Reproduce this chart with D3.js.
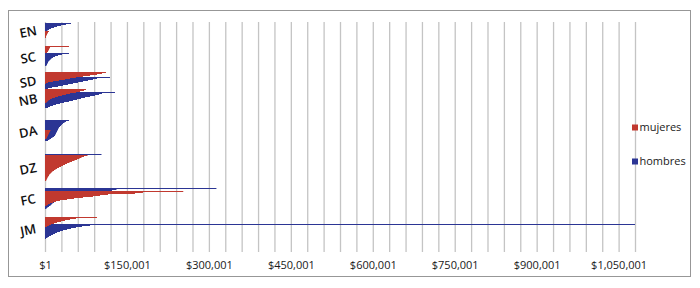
<!DOCTYPE html>
<html>
<head>
<meta charset="utf-8">
<script src="https://cdn.jsdelivr.net/npm/d3@7"></script>
<style>
  html, body { margin: 0; padding: 0; background: #fff; }
  svg { display: block; }
</style>
</head>
<body>
<svg id="chart" width="700" height="288"></svg>
<script>
// ---- DATA (one value per employee row, in dollars; 0 = empty row) ----
const categories = ["EN", "SC", "SD", "NB", "DA", "DZ", "FC", "JM"];
const seriesNames = ["mujeres", "hombres"];
const xTickValues = [1, 150001, 300001, 450001, 600001, 750001, 900001, 1050001];

const EN_mujeres = [0,0,0,0,0,0,0,0,0,7300,5500,4600,3700,2700,1800,1800,0,0,0,0];
const EN_hombres = [0,47600,38400,29300,22000,16500,11000,7300,4600,0,0,0,0,0,0,0,0,0,0,0];

const SC_mujeres = [0,0,0,0,43900,9200,8200,7300,6400,5500,3700,0,0,0,0,0,0,0,0,0,0,0,0,0,0,0,0];
const SC_hombres = [0,0,0,0,0,0,0,0,0,0,0,43900,31100,23800,18300,14600,11900,10100,8200,6400,5500,4600,3700,2700,0,0,0];

const SD_mujeres = [0,0,0,111600,104300,95200,82400,69500,56700,45800,36600,25600,14600,5500,1800,0,0,0,0,0];
const SD_hombres = [0,0,0,0,0,0,0,0,119000,95200,87800,78700,69500,60400,51200,42100,32900,23800,12800,5500];

const NB_mujeres = [75000,71400,64100,56700,45800,38400,31100,23800,18300,12800,9200,6400,4600,2700,0,0,0,0,0,0,0,0,0,0];
const NB_hombres = [0,0,0,128100,104300,98800,91500,82400,73200,65900,58600,51200,43900,34800,27500,20100,14600,9200,5500,0,0,0,0,0];

const DA_mujeres = [0,0,0,0,0,0,0,0,0,0,0,0,0,0,0,0,0,10100,9200,8200,7300,6400,5500,4600,3700,2700,0,0,0,0,0,0,0,0];
const DA_hombres = [0,0,0,0,0,0,0,43900,38400,35700,32900,31100,29300,27500,25600,24700,23800,22900,22000,21000,20100,19200,18300,16500,13700,11000,8200,5500,0,0,0,0,0,0];

const DZ_mujeres = [0,0,0,0,0,0,0,0,77800,71400,66800,63100,58600,54000,49400,44800,40300,36600,32900,29300,25600,22000,19200,16500,13700,11900,10100,8200,7300,6000,4900,4000,3100,2200,0,0,0];
const DZ_hombres = [0,0,0,0,0,0,0,103400,0,0,0,0,0,0,0,0,0,0,0,0,0,0,0,0,0,0,0,0,0,0,0,0,0,0,0,0,0];

const FC_mujeres = [0,0,0,0,0,0,0,253100,179300,164700,115300,100700,87800,69500,53100,40300,27500,20100,14600,9200,5500,2700,0,0,0,0,0,0];
const FC_hombres = [0,0,0,0,313800,130800,122600,0,0,0,0,0,0,0,0,0,0,0,16500,13700,11900,10100,7300,4600,2700,0,0,0];

const JM_mujeres = [0,0,0,0,0,95200,56700,45800,36600,29300,22000,16500,11000,7300,3700,0,0,0,0,0,0,0,0,0,0,0,0,0,0,0,0,0,0,0,0,0,0,0,0,0];
const JM_hombres = [0,0,0,0,0,0,0,0,0,0,0,0,1080000,82400,67700,56700,47600,40300,32900,27500,22000,18300,14600,11000,7300,4600,1800,0,0,0,0,0,0,0,0,0,0,0,0,0];

// ---- build table ----
const groupData = [
  [EN_mujeres, EN_hombres], [SC_mujeres, SC_hombres], [SD_mujeres, SD_hombres],
  [NB_mujeres, NB_hombres], [DA_mujeres, DA_hombres], [DZ_mujeres, DZ_hombres],
  [FC_mujeres, FC_hombres], [JM_mujeres, JM_hombres]
];
const rows = [];
const labelInfo = [];
groupData.forEach(([m, h], gi) => {
  const idx = [];
  m.forEach((v, i) => {
    const r = rows.length;
    rows.push({ group: categories[gi], mujeres: v, hombres: h[i] });
    if (v > 0 || h[i] > 0) idx.push(r);
  });
  labelInfo.push({ name: categories[gi], mid: d3.mean(idx) });
});

// ---- layout ----
const colors = { mujeres: "#c1392f", hombres: "#2b3594" };
const plotLeft = 45, plotRight = 635, plotTop = 22, plotBottom = 252;

const svg = d3.select("#chart");

svg.append("rect")
  .attr("x", 8.5).attr("y", 10.5).attr("width", 682).attr("height", 266)
  .attr("fill", "#fff").attr("stroke", "#979797").attr("stroke-width", 1);

const x = d3.scaleLinear().domain([1, 1080001]).range([plotLeft, plotRight]);
const y = d3.scaleBand().domain(d3.range(rows.length)).range([plotTop, plotBottom]).padding(0);

// gridlines (every 30,000)
const gridVals = d3.range(1, 1080002, 30000);
svg.append("g")
  .attr("transform", `translate(0,${plotBottom})`)
  .call(d3.axisBottom(x).tickValues(gridVals).tickSize(-(plotBottom - plotTop)).tickFormat(""))
  .call(g => g.select(".domain").remove())
  .call(g => g.selectAll(".tick line").attr("stroke", "#c4c4c4").attr("stroke-width", 1.3));

// tick labels
svg.append("g")
  .attr("transform", `translate(0,${plotBottom})`)
  .call(d3.axisBottom(x).tickValues(xTickValues).tickSize(0).tickPadding(9).tickFormat(d3.format("$,")))
  .call(g => g.select(".domain").remove())
  .call(g => g.selectAll("text")
    .attr("font-family", "'Open Sans', sans-serif")
    .attr("font-size", 11)
    .attr("fill", "#1a1a1a"));

// bars: hombres first, mujeres drawn on top
["hombres", "mujeres"].forEach(s => {
  svg.append("g").selectAll("rect")
    .data(rows.map((r, i) => ({ i, v: r[s] })).filter(d => d.v > 0))
    .join("rect")
    .attr("x", x(1))
    .attr("y", d => y(d.i))
    .attr("width", d => Math.max(0, x(Math.min(d.v, 1080001)) - x(1)))
    .attr("height", y.bandwidth())
    .attr("fill", colors[s]);
});

// category labels
svg.append("g").selectAll("text")
  .data(labelInfo)
  .join("text")
  .attr("transform", d => `translate(28,${y(Math.round(d.mid)) + 1.5}) rotate(-11)`)
  .attr("text-anchor", "middle")
  .attr("dominant-baseline", "central")
  .attr("font-family", "'Open Sans', sans-serif")
  .attr("font-weight", 600)
  .attr("font-size", 13)
  .attr("fill", "#111")
  .text(d => d.name);

// legend
const legendY = { mujeres: 127.5, hombres: 161.5 };
seriesNames.forEach(s => {
  const g = svg.append("g");
  g.append("rect").attr("x", 632).attr("y", legendY[s] - 3).attr("width", 6).attr("height", 6).attr("fill", colors[s]);
  g.append("text").attr("x", 639.5).attr("y", legendY[s] + 3.5)
    .attr("font-family", "'Open Sans', sans-serif").attr("font-size", 11)
    .attr("fill", "#1a1a1a").text(s);
});
</script>
</body>
</html>
